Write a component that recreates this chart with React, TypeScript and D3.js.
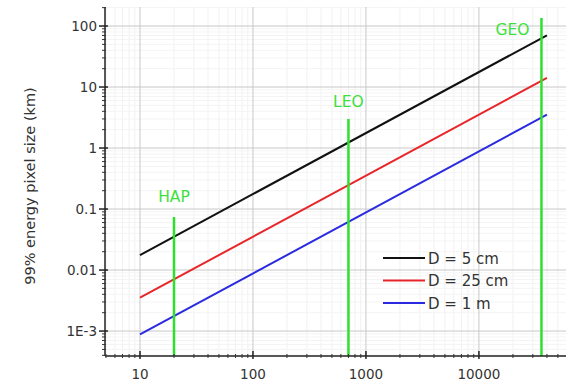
import React from "react";
import * as d3 from "d3";

// Distance to target (km) and pixel size for each aperture
const distances = [10, 40000];
const apertures = ["D = 5 cm", "D = 25 cm", "D = 1 m"];
const pixelAt10km = [0.0176, 0.00352, 0.00088];
const pixelAt40000km = [70.4, 14.08, 3.52];
const seriesColors = ["#111111", "#e8262a", "#2a2ae0"];

// Platform altitudes (km), marker heights and label heights (km on y scale)
const platforms = ["HAP", "LEO", "GEO"];
const platformAltitudes = [20, 700, 35786];
const platformTops = [0.074, 3.0, 135];
const platformLabelLevels = [0.13, 4.7, 71];

const xTickValues = [10, 100, 1000, 10000];
const xTickLabels = ["10", "100", "1000", "10000"];
const yTickValues = [0.001, 0.01, 0.1, 1, 10, 100];
const yTickLabels = ["1E-3", "0.01", "0.1", "1", "10", "100"];

const W = 566;
const H = 386;
const left = 105;
const right = 566;
const top = 7;
const bottom = 356;

export default function App() {
  const x = d3.scaleLog().domain([4.9, 59000]).range([left, right]);
  const y = d3.scaleLog().domain([3.9e-4, 205]).range([bottom, top]);

  const xMinor: number[] = [];
  for (let e = 0; e <= 4; e++) {
    for (let m = 2; m <= 9; m++) {
      const v = m * Math.pow(10, e);
      if (v >= 4.9 && v <= 59000) xMinor.push(v);
    }
  }
  const yMinor: number[] = [];
  for (let e = -4; e <= 2; e++) {
    for (let m = 2; m <= 9; m++) {
      const v = m * Math.pow(10, e);
      if (v >= 3.9e-4 && v <= 205) yMinor.push(v);
    }
  }

  const line = d3
    .line<[number, number]>()
    .x((d) => x(d[0]))
    .y((d) => y(d[1]));

  const font = "DejaVu Sans, Verdana, sans-serif";

  return (
    <svg width={W} height={H} style={{ position: "absolute", left: 0, top: 0, background: "#fff" }}>
      {/* minor grid */}
      {xMinor.map((v) => (
        <line key={"gxm" + v} x1={x(v)} x2={x(v)} y1={top} y2={bottom} stroke="#f1f1f1" strokeWidth={1} />
      ))}
      {yMinor.map((v) => (
        <line key={"gym" + v} x1={left} x2={right} y1={y(v)} y2={y(v)} stroke="#f4f4f4" strokeWidth={1} />
      ))}
      {/* major grid */}
      {xTickValues.map((v) => (
        <line key={"gx" + v} x1={x(v)} x2={x(v)} y1={top} y2={bottom} stroke="#c8c8c8" strokeWidth={1} />
      ))}
      {yTickValues.map((v) => (
        <line key={"gy" + v} x1={left} x2={right} y1={y(v)} y2={y(v)} stroke="#c8c8c8" strokeWidth={1} />
      ))}

      {/* series */}
      {apertures.map((name, i) => (
        <path
          key={name}
          d={line([
            [distances[0], pixelAt10km[i]],
            [distances[1], pixelAt40000km[i]],
          ]) as string}
          fill="none"
          stroke={seriesColors[i]}
          strokeWidth={2}
        />
      ))}

      {/* platform markers */}
      {platforms.map((p, i) => (
        <g key={p}>
          <line
            x1={x(platformAltitudes[i])}
            x2={x(platformAltitudes[i])}
            y1={y(platformTops[i])}
            y2={bottom}
            stroke="#2ee02e"
            strokeWidth={2.5}
          />
          <text
            x={i === 2 ? x(platformAltitudes[i]) - 12 : x(platformAltitudes[i])}
            y={y(platformLabelLevels[i])}
            textAnchor={i === 2 ? "end" : "middle"}
            fontFamily={font}
            fontSize={15.5}
            fill="#3ee03e"
          >
            {p}
          </text>
        </g>
      ))}

      {/* axes */}
      <line x1={left} x2={left} y1={top} y2={bottom} stroke="#222" strokeWidth={1.5} />
      <line x1={left} x2={right} y1={bottom} y2={bottom} stroke="#222" strokeWidth={1.5} />
      {xMinor.map((v) => (
        <line key={"txm" + v} x1={x(v)} x2={x(v)} y1={bottom - 2} y2={bottom + 2} stroke="#333" strokeWidth={1} />
      ))}
      {xTickValues.map((v, i) => (
        <g key={"tx" + v}>
          <line x1={x(v)} x2={x(v)} y1={bottom - 5} y2={bottom + 3} stroke="#222" strokeWidth={1.5} />
          <text x={x(v)} y={bottom + 23} textAnchor="middle" fontFamily={font} fontSize={13.5} fill="#333">
            {xTickLabels[i]}
          </text>
        </g>
      ))}
      {yMinor.map((v) => (
        <line key={"tym" + v} x1={left - 3} x2={left + 1} y1={y(v)} y2={y(v)} stroke="#333" strokeWidth={1} />
      ))}
      {yTickValues.map((v, i) => (
        <g key={"ty" + v}>
          <line x1={left - 6} x2={left + 3} y1={y(v)} y2={y(v)} stroke="#222" strokeWidth={1.5} />
          <text x={left - 8} y={y(v) + 5} textAnchor="end" fontFamily={font} fontSize={13.5} fill="#333">
            {yTickLabels[i]}
          </text>
        </g>
      ))}

      {/* y axis title */}
      <text
        transform={`translate(35, 186) rotate(-90)`}
        textAnchor="middle"
        fontFamily={font}
        fontSize={14.5}
        fill="#333"
      >
        99% energy pixel size (km)
      </text>

      {/* legend */}
      {apertures.map((name, i) => (
        <g key={"lg" + name} transform={`translate(383, ${258 + i * 22.5})`}>
          <line x1={0} x2={42} y1={0} y2={0} stroke={seriesColors[i]} strokeWidth={2} />
          <text x={45} y={5.5} fontFamily={font} fontSize={15} fill="#333">
            {name}
          </text>
        </g>
      ))}
    </svg>
  );
}
